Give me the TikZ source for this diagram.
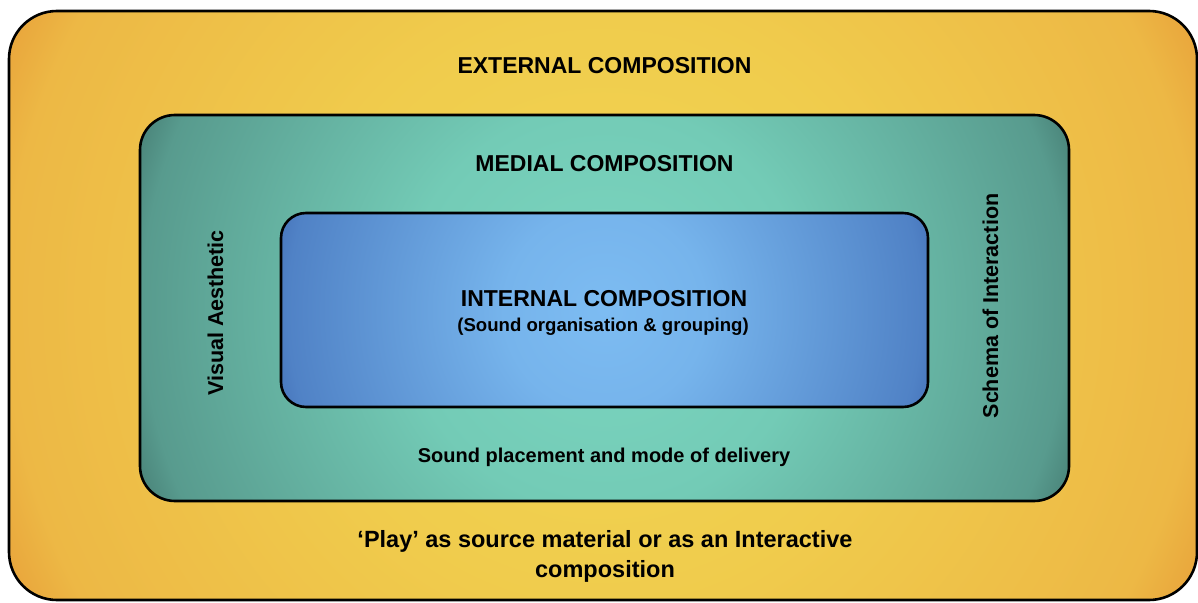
\documentclass[tikz,border=0pt]{standalone}
\usepackage{fontspec}
\setmainfont{Liberation Sans}
\pgfdeclareradialshading{yshade}{\pgfpoint{0bp}{0bp}}{rgb(0bp)=(0.949,0.839,0.322); rgb(11bp)=(0.941,0.800,0.300); rgb(22.5bp)=(0.929,0.722,0.271); rgb(25bp)=(0.910,0.635,0.227); rgb(50bp)=(0.910,0.635,0.227)}
\pgfdeclareradialshading{tshade}{\pgfpoint{0bp}{0bp}}{rgb(0bp)=(0.486,0.839,0.753); rgb(10bp)=(0.451,0.796,0.714); rgb(23bp)=(0.345,0.608,0.557); rgb(25bp)=(0.282,0.502,0.463); rgb(50bp)=(0.282,0.502,0.463)}
\pgfdeclareradialshading{bshade}{\pgfpoint{0bp}{0bp}}{rgb(0bp)=(0.490,0.737,0.949); rgb(7.5bp)=(0.463,0.706,0.925); rgb(23.5bp)=(0.314,0.510,0.776); rgb(25bp)=(0.282,0.463,0.737); rgb(50bp)=(0.282,0.463,0.737)}
\tikzset{
  layerbox/.style={draw=black, line width=2.6pt, inner sep=0pt, outer sep=0pt},
  heading/.style={font=\fontsize{23}{27}\selectfont\bfseries, anchor=base, inner sep=0pt},
  sublabel/.style={font=\fontsize{20}{24}\selectfont\bfseries, inner sep=0pt},
}
\begin{document}
\begin{tikzpicture}[x=1pt,y=-1pt]
\useasboundingbox (0,0) rectangle (1198,602);
\begin{scope}
\clip (0,0) rectangle (1198,602);
\node[layerbox, rounded corners=48pt,
  path picture={\shade[shading=yshade] (path picture bounding box.center) circle (663pt);},
  minimum width=1188pt, minimum height=589pt] (outer) at (603,305.5) {};
\end{scope}
\node[layerbox, rounded corners=35pt,
  path picture={\shade[shading=tshade] (path picture bounding box.center) circle (503pt);},
  minimum width=929pt, minimum height=386pt] (medial) at (604.5,308) {};
\node[layerbox, rounded corners=25pt,
  path picture={\shade[shading=bshade] (path picture bounding box.center) circle (337pt);},
  minimum width=647pt, minimum height=194pt] (inner) at (604.5,310) {};

\node[heading] (exttitle) at (604.5,73.5) {EXTERNAL COMPOSITION};
\node[heading] (medtitle) at (604.5,171) {MEDIAL COMPOSITION};
\node[heading] (inttitle) at (604,306) {INTERNAL COMPOSITION};
\node[font=\fontsize{18.6}{22}\selectfont\bfseries, anchor=base, inner sep=0pt] (intsub) at (603,331) {(Sound organisation \& grouping)};
\node[sublabel, anchor=base] (placement) at (604,462) {Sound placement and mode of delivery};
\node[font=\fontsize{21.5}{25}\selectfont\bfseries, rotate=90, inner sep=0pt] (visual) at (215.5,313) {Visual Aesthetic};
\node[font=\fontsize{21.5}{25}\selectfont\bfseries, rotate=90, inner sep=0pt] (schema) at (990.5,306) {Schema of Interaction};
\node[font=\fontsize{23.5}{30}\selectfont\bfseries, anchor=base, inner sep=0pt] (play1) at (605,547) {‘Play’ as source material or as an Interactive};
\node[font=\fontsize{23.5}{30}\selectfont\bfseries, anchor=base, inner sep=0pt] (play2) at (605,577) {composition};
\end{tikzpicture}
\end{document}
